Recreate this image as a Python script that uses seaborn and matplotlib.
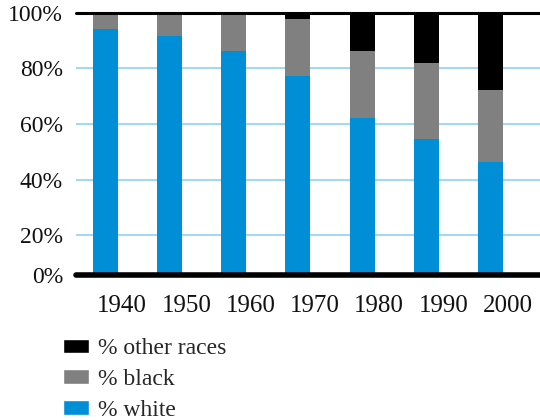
import matplotlib
matplotlib.use("Agg")
import matplotlib.pyplot as plt
import matplotlib.transforms as mtransforms
from matplotlib.patches import Patch
import numpy as np
import pandas as pd
import seaborn as sns

# Population share by race, per census year
years = ["1940", "1950", "1960", "1970", "1980", "1990", "2000"]
pct_white = [94.0, 91.6, 86.2, 77.2, 62.2, 54.6, 46.3]
pct_black = [6.0, 8.4, 13.8, 20.5, 24.0, 27.3, 25.9]
pct_other = [0.0, 0.0, 0.0, 2.3, 13.8, 18.1, 27.8]

y_ticks = [20, 40, 60, 80, 100]
y_tick_labels = ["20%", "40%", "60%", "80%", "100%"]

BLUE = "#008fd7"
GRAY = "#808080"
BLACK = "#000000"
GRID = "#8fd2f0"

sns.set_theme(style="white")
plt.rcParams["font.family"] = ["Liberation Serif", "DejaVu Serif"]

df = pd.DataFrame({"year": years, "white": pct_white,
                   "black": pct_black, "other": pct_other})
df["white_black"] = df["white"] + df["black"]

fig = plt.figure(figsize=(5.4, 4.2), dpi=100)
ax = fig.add_axes([76 / 540, 1 - 275.3 / 420, 1 - 76 / 540, (275.3 - 12.7) / 420])

bar_w = 0.39
sns.barplot(data=df, x="year", y="white", color=BLUE, width=bar_w,
            saturation=1, ax=ax, zorder=3, linewidth=0)
sns.barplot(data=df, x="year", y="black", bottom=df["white"], color=GRAY,
            width=bar_w, saturation=1, ax=ax, zorder=3, linewidth=0)
sns.barplot(data=df, x="year", y="other", bottom=df["white_black"], color=BLACK,
            width=bar_w, saturation=1, ax=ax, zorder=3, linewidth=0)

# The baseline sits slightly above the zero of the scale
y_low = 5.54
ax.set_ylim(y_low, 100)
ax.set_xlim(-0.456, 6.77)

ax.set_yticks([y_low] + y_ticks)
ax.set_yticklabels(["0%"] + y_tick_labels)
for y in y_ticks[:-1]:
    ax.axhline(y, color=GRID, lw=1.2, zorder=1)
ax.axhline(100, color=BLACK, lw=2.2, zorder=4, clip_on=False)
ax.axhline(y_low, color=BLACK, lw=4, zorder=4, clip_on=False)

for s in ax.spines.values():
    s.set_visible(False)
ax.grid(False)
ax.set_xlabel("")
ax.set_ylabel("")
ax.tick_params(axis="both", length=0, colors="#111111")
ax.tick_params(axis="y", pad=9.4, labelsize=17)
ax.tick_params(axis="x", pad=14, labelsize=18)

# Shift the year labels a little to the right of their bars
shift = mtransforms.ScaledTranslation(17 / 100, 0, fig.dpi_scale_trans)
for lbl in ax.get_xticklabels():
    lbl.set_transform(lbl.get_transform() + shift)

handles = [Patch(facecolor=BLACK), Patch(facecolor=GRAY), Patch(facecolor=BLUE)]
labels = ["% other races", "% black", "% white"]
fig.legend(handles, labels, loc="upper left", bbox_to_anchor=(63 / 540, 1 - 338 / 420),
           frameon=False, fontsize=17, handlelength=1.1, handleheight=0.55,
           handletextpad=0.38, labelspacing=0.42, borderaxespad=0, borderpad=0)

fig.savefig("out.png", dpi=100)
